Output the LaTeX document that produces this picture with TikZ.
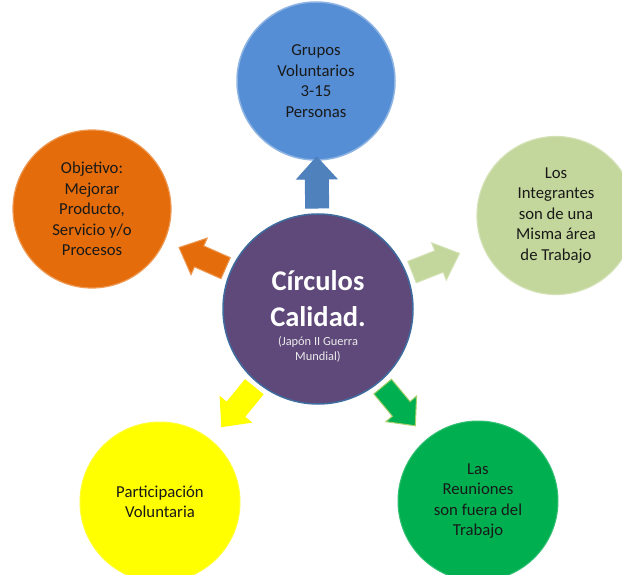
\documentclass[tikz,border=0pt]{standalone}
\usepackage{fontspec}
\setmainfont{Carlito}
\usetikzlibrary{calc}
\definecolor{cpurple}{HTML}{5F497A}
\definecolor{cpurpleedge}{HTML}{3F6C9F}
\definecolor{cblue}{HTML}{558ED5}
\definecolor{cblueedge}{HTML}{8DB3E2}
\definecolor{carrowblue}{HTML}{4F81BD}
\definecolor{corange}{HTML}{E46C0A}
\definecolor{corangeedge}{HTML}{EE9A55}
\definecolor{clgreen}{HTML}{C3D69B}
\definecolor{clgreenedge}{HTML}{D3E2B5}
\definecolor{cyellow}{HTML}{FFFF00}
\definecolor{cgreen}{HTML}{00B050}
\definecolor{cgreenedge}{HTML}{A9CF6E}
\newcommand\barrow[4]{%
  \path ($(#1)!101pt!(#2)$) coordinate (ta)
        ($(#1)!130pt!(#2)$) coordinate (hb)
        ($(#1)!152pt!(#2)$) coordinate (tp);
  \filldraw[fill=#3,draw=#4,line width=1pt,line join=miter]
    ($(ta)!11.5pt!90:(tp)$) -- ($(hb)!11.5pt!90:(tp)$) -- ($(hb)!20pt!90:(tp)$)
    -- (tp) -- ($(hb)!20pt!-90:(tp)$) -- ($(hb)!11.5pt!-90:(tp)$)
    -- ($(ta)!11.5pt!-90:(tp)$) -- cycle;
}
\begin{document}
\begin{tikzpicture}[x=1pt,y=-1pt,
  outer/.style={circle,minimum size=#1,inner sep=0pt,align=center,
    font=\fontsize{16.7}{20.5}\selectfont,text=black!90},
  outer/.default=158pt]
\useasboundingbox (0,0) rectangle (622,575);
\fill[white] (0,0) rectangle (622,575);

\node[outer, fill=cblue, draw=cblueedge, line width=1.5pt] (top) at (316,81)
  {Grupos\\Voluntarios\\3-15\\Personas};
\node[outer, fill=corange, draw=corangeedge, line width=1.2pt] (left) at (92,209)
  {Objetivo:\\Mejorar\\Producto,\\Servicio y/o\\Procesos};
\node[outer, fill=clgreen, draw=clgreenedge, line width=1.2pt] (right) at (556,215.5)
  {Los\\Integrantes\\son de una\\Misma área\\de Trabajo};
\node[outer=160pt, fill=cyellow, draw=cyellow!80!white, line width=1pt] (bl) at (160,502)
  {Participación\\Voluntaria};
\node[outer=160pt, fill=cgreen, draw=cgreen!80!white, line width=1pt] (br) at (478,501)
  {Las\\Reuniones\\son fuera del\\Trabajo};

\node[circle, minimum size=190pt, inner sep=0pt, fill=cpurple, draw=cpurpleedge,
  line width=1.5pt] (c) at (318,309) {};
\node[align=center, text=white, font=\fontsize{28.5}{36}\selectfont\bfseries]
  (ct) at (318,299) {Círculos\\Calidad.};
\node[align=center, text=white!92!black, font=\fontsize{12.4}{15}\selectfont]
  (cs) at (318,349) {(Japón II Guerra\\Mundial)};

\barrow{c}{top}{carrowblue}{carrowblue}
\barrow{c}{left}{corange}{corangeedge}
\barrow{c}{right}{clgreen}{clgreenedge}
\barrow{c}{bl}{cyellow}{cyellow}
\barrow{c}{br}{cgreen}{cgreenedge}
\end{tikzpicture}
\end{document}
